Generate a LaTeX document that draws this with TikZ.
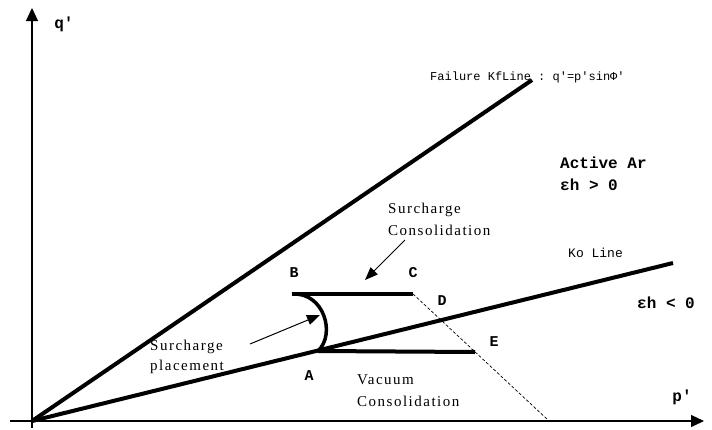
\documentclass[tikz,border=0pt]{standalone}
\usepackage{fontspec}
\setmainfont{Liberation Serif}
\setmonofont{Liberation Mono}
\usetikzlibrary{arrows.meta}
\begin{document}
\begin{tikzpicture}[x=1pt,y=-1pt,
  axis/.style={line width=1.2pt,-{Triangle[length=13pt,width=12pt]}},
  heavy/.style={line width=4pt},
  pointer/.style={line width=1pt,-{Triangle[length=13pt,width=10pt]}},
  guide/.style={line width=0.7pt,dash pattern=on 3pt off 2pt},
  serif/.style={font=\fontsize{15}{22}\selectfont\addfontfeature{LetterSpace=10},align=left,anchor=west,inner sep=0pt},
  mono/.style={font=\ttfamily\fontsize{12}{15}\selectfont,anchor=west,inner sep=0pt},
  monob/.style={font=\ttfamily\bfseries\fontsize{16}{20}\selectfont,inner sep=0pt},
  ptlabel/.style={font=\ttfamily\bfseries\fontsize{15}{16}\selectfont,inner sep=0pt}
]
\useasboundingbox (0,0) rectangle (712,429);
% key points
\coordinate (O) at (32,421);
\coordinate (xs) at (10,421);
\coordinate (xe) at (704,421);
\coordinate (ys) at (32,428);
\coordinate (ye) at (32,8);
\coordinate (F) at (532,80);
\coordinate (K) at (673,263);
\coordinate (A) at (318,351);
\coordinate (B) at (292,294);
\coordinate (C) at (413,294);
\coordinate (E) at (475,352);
\coordinate (G) at (547,419);
\coordinate (sc1) at (405,240);
\coordinate (sc2) at (365,280);
\coordinate (sp1) at (250,344);
\coordinate (sp2) at (320,315);
% axes
\draw[axis] (xs) -- (xe);
\draw[axis] (ys) -- (ye);
% lines
\draw[heavy] (O) -- (F);
\draw[heavy] (O) -- (K);
\draw[heavy] (B) -- (C);
\draw[heavy] (A) -- (E);
\draw[line width=3.5pt] (B) .. controls (324,292) and (336,334) .. (A);
\draw[guide] (C) -- (G);
% pointers
\draw[pointer] (sc1) -- (sc2);
\draw[pointer] (sp1) -- (sp2);
% labels
\node[monob] (q) at (64,24) {q'};
\node[monob] (p) at (682,397) {p'};
\node[mono] (fl) at (430,77) {Failure KfLine : q'=p'sinΦ'};
\node[mono,font=\ttfamily\fontsize{13}{15}\selectfont] (ko) at (568,253) {Ko Line};
\node[monob,anchor=west] (act) at (560,163) {Active Ar};
\node[monob,anchor=west] (ehp) at (560,185) {εh > 0};
\node[monob,anchor=west] (ehn) at (637,303) {εh < 0};
\node[ptlabel] (lB) at (294,273) {B};
\node[ptlabel] (lC) at (413,273) {C};
\node[ptlabel] (lD) at (442,301) {D};
\node[ptlabel] (lE) at (494,342) {E};
\node[ptlabel] (lA) at (309,376) {A};
\node[serif] (sc) at (388,219) {Surcharge\\Consolidation};
\node[serif,font=\fontsize{15}{20}\selectfont\addfontfeature{LetterSpace=10}] (sp) at (150,357) {Surcharge\\placement};
\node[serif] (vc) at (357,391) {Vacuum\\Consolidation};
\end{tikzpicture}
\end{document}
